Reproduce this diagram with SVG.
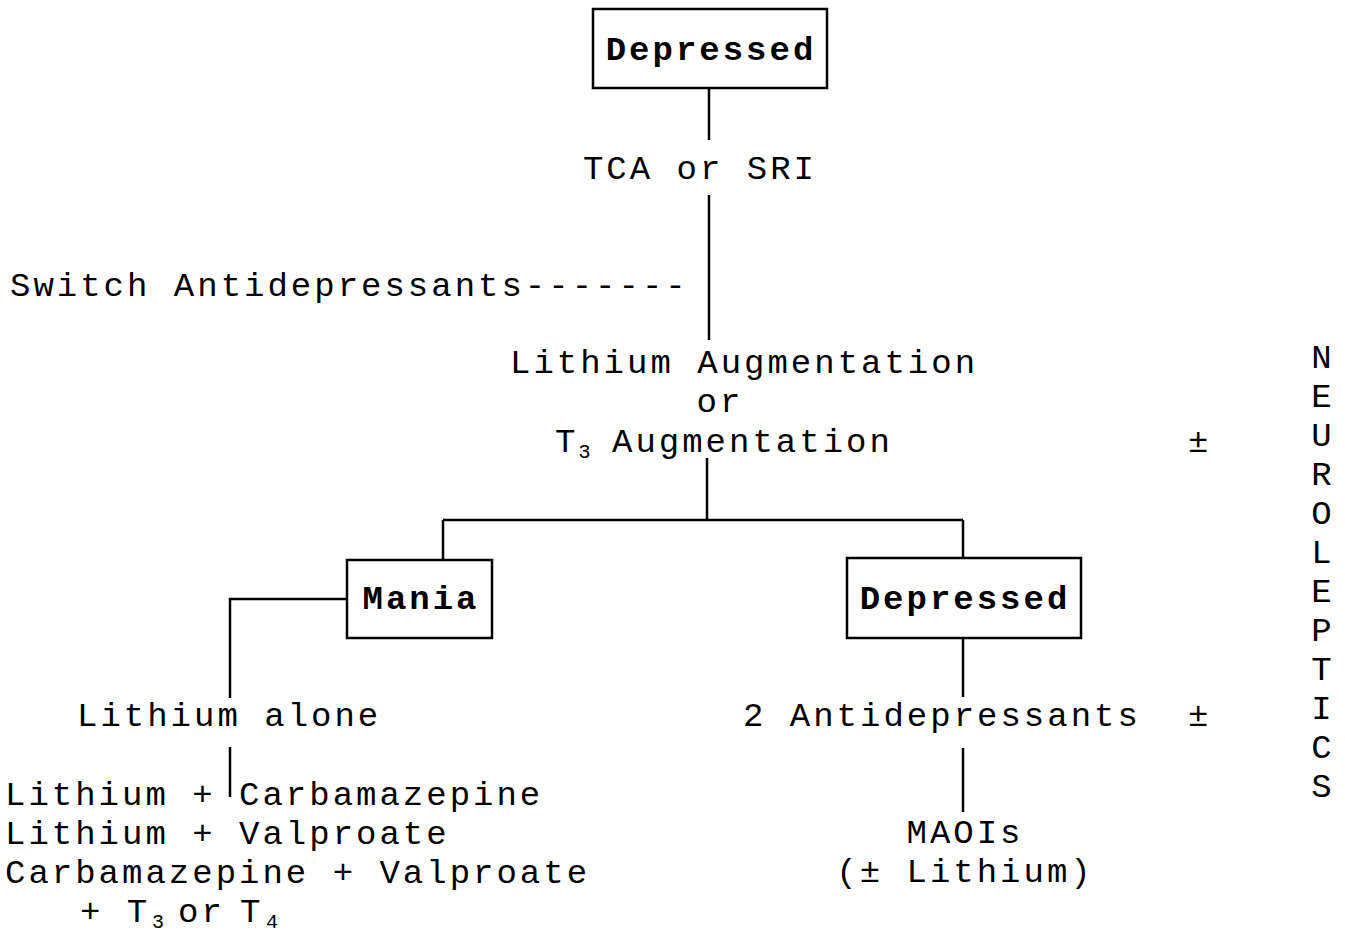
<svg xmlns="http://www.w3.org/2000/svg" width="1345" height="933" viewBox="0 0 1345 933">
<style>
text{font-family:"Liberation Mono","Courier New",monospace;font-size:34px;letter-spacing:3px;fill:#000}
.b{font-weight:bold}
.c{text-anchor:middle}
.sub{font-size:20px;letter-spacing:0}
.box{fill:#fff;stroke:#000;stroke-width:2.5}
.ln{stroke:#000;stroke-width:2.5;fill:none}
</style>
<rect width="1345" height="933" fill="#fff"/>
<g id="connectors">
<path class="ln" d="M709 88V140M709 195V340M707 458V520M443 520H963M443 520V560M963 520V558M347 599H230V698M230 747V797M963 638V697M963 748V812"/>
</g>
<g id="n-depressed-top"><rect class="box" x="593" y="9" width="234" height="79"/><text class="b c" x="711" y="60">Depressed</text></g>
<g id="n-tca"><text class="c" x="700" y="179">TCA or SRI</text></g>
<g id="n-switch"><text x="10" y="296">Switch Antidepressants-------</text></g>
<g id="n-augment">
<text x="510" y="373">Lithium Augmentation</text>
<text class="c" x="720" y="412">or</text>
<text x="555" y="452">T<tspan class="sub" dy="6">3</tspan><tspan x="612" dy="-6">Augmentation</tspan></text>
</g>
<g id="n-pm1"><text x="1188" y="452">±</text></g>
<g id="n-mania"><rect class="box" x="347" y="560" width="145" height="78"/><text class="b c" x="421" y="609">Mania</text></g>
<g id="n-depressed-2"><rect class="box" x="847" y="558" width="234" height="80"/><text class="b c" x="965" y="609">Depressed</text></g>
<g id="n-lithium-alone"><text x="77" y="726">Lithium alone</text></g>
<g id="n-combos">
<text x="5" y="805">Lithium + Carbamazepine</text>
<text x="5" y="844">Lithium + Valproate</text>
<text x="5" y="883">Carbamazepine + Valproate</text>
<text x="80" y="922">+ T<tspan class="sub" x="152" dy="6">3</tspan><tspan x="178" dy="-6">or</tspan><tspan x="240">T</tspan><tspan class="sub" x="266" dy="6">4</tspan></text>
</g>
<g id="n-2anti"><text x="743" y="726">2 Antidepressants</text><text x="1188" y="726">±</text></g>
<g id="n-maoi"><text class="c" x="965" y="843">MAOIs</text><text class="c" x="965" y="882">(± Lithium)</text></g>
<g id="n-neuroleptics">
<text class="c" x="1323" y="368">N</text>
<text class="c" x="1323" y="407">E</text>
<text class="c" x="1323" y="446">U</text>
<text class="c" x="1323" y="485">R</text>
<text class="c" x="1323" y="524">O</text>
<text class="c" x="1323" y="563">L</text>
<text class="c" x="1323" y="602">E</text>
<text class="c" x="1323" y="641">P</text>
<text class="c" x="1323" y="680">T</text>
<text class="c" x="1323" y="719">I</text>
<text class="c" x="1323" y="758">C</text>
<text class="c" x="1323" y="797">S</text>
</g>
</svg>
